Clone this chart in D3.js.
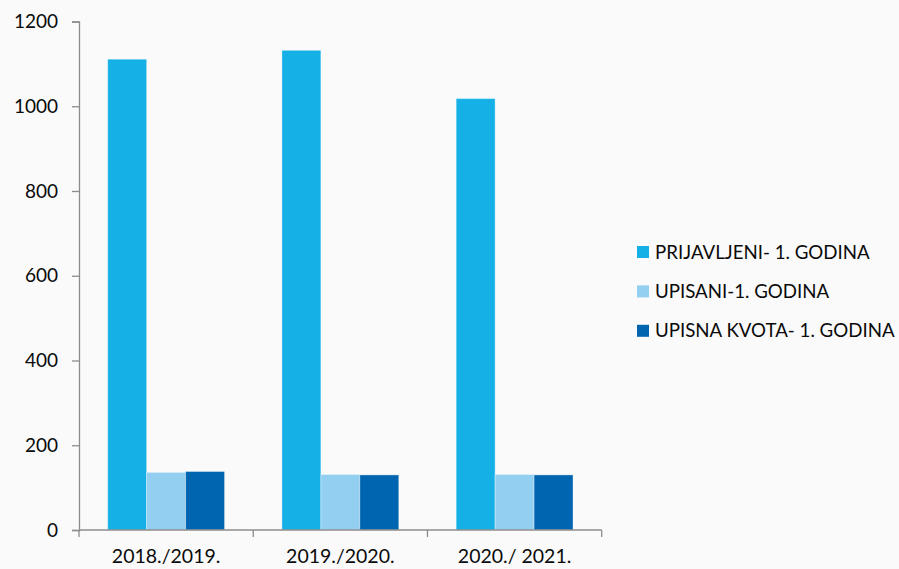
<!DOCTYPE html>
<html>
<head>
<meta charset="utf-8">
<script src="https://cdn.jsdelivr.net/npm/d3@7"></script>
<style>
html,body{margin:0;padding:0;background:#fafafa;}
svg{display:block;}
</style>
</head>
<body>
<svg id="chart" width="899" height="569"></svg>
<script>
const categories = ["2018./2019.", "2019./2020.", "2020./ 2021."];
const seriesNames = ["PRIJAVLJENI- 1. GODINA", "UPISANI-1. GODINA", "UPISNA KVOTA- 1. GODINA"];
const prijavljeni = [1111, 1132, 1018];
const upisani = [136, 131, 131];
const kvota = [138, 130, 130];
const yTicks = [0, 200, 400, 600, 800, 1000, 1200];
const colors = ["#15b1e6", "#92cff1", "#0065b1"];

const seriesValues = [prijavljeni, upisani, kvota];
const svg = d3.select("#chart");
const font = "Lato, 'Open Sans', sans-serif";
const mLeft = 79, mRight = 601.7, mTop = 21.5, mBottom = 530;

const x0 = d3.scaleBand().domain(categories).range([mLeft, mRight]).padding(0);
const gap = x0.bandwidth() * 0.1647;
const x1 = d3.scaleBand().domain(seriesNames).range([gap, x0.bandwidth() - gap]).padding(0);
const y = d3.scaleLinear().domain([0, 1200]).range([mBottom, mTop]);

// bars
const groups = svg.append("g").selectAll("g").data(categories).join("g")
  .attr("transform", d => `translate(${x0(d)},0)`);
groups.selectAll("rect")
  .data((c, i) => seriesNames.map((s, j) => ({s, j, v: seriesValues[j][i]})))
  .join("rect")
  .attr("x", d => x1(d.s))
  .attr("width", x1.bandwidth())
  .attr("y", d => y(d.v))
  .attr("height", d => y(0) - y(d.v))
  .attr("fill", d => colors[d.j])
  .attr("stroke", "rgba(255,255,255,0.35)")
  .attr("stroke-width", 1);

// y axis
const yAxis = svg.append("g").attr("transform", `translate(${mLeft},0)`)
  .call(d3.axisLeft(y).tickValues(yTicks).tickSize(7).tickPadding(14).tickFormat(d3.format("d")));
yAxis.select(".domain").attr("stroke", "#8c8c8c").attr("stroke-width", 1.3);
yAxis.selectAll(".tick line").attr("stroke", "#8c8c8c").attr("stroke-width", 1.3);
yAxis.selectAll("text").attr("font-family", font).attr("font-size", 19).attr("fill", "#0a0a0a");

// x axis
const xAxisG = svg.append("g").attr("transform", `translate(0,${mBottom})`);
xAxisG.append("line").attr("x1", mLeft).attr("x2", mRight).attr("y1", 0).attr("y2", 0)
  .attr("stroke", "#8c8c8c").attr("stroke-width", 1.5);
const boundaries = categories.map(c => x0(c)).concat([x0(categories[categories.length-1]) + x0.bandwidth()]);
xAxisG.selectAll("line.tk").data(boundaries).join("line").attr("class", "tk")
  .attr("x1", d => d).attr("x2", d => d).attr("y1", 0).attr("y2", 7)
  .attr("stroke", "#8c8c8c").attr("stroke-width", 1.3);
xAxisG.selectAll("text").data(categories).join("text")
  .attr("x", d => x0(d) + x0.bandwidth() / 2)
  .attr("y", 33)
  .attr("text-anchor", "middle")
  .attr("font-family", font).attr("font-size", 19.5).attr("fill", "#0a0a0a")
  .text(d => d);

// legend
const legend = svg.append("g").attr("transform", "translate(637,252)");
const li = legend.selectAll("g").data(seriesNames).join("g")
  .attr("transform", (d, i) => `translate(0,${i * 39.4})`);
li.append("rect").attr("x", 0).attr("y", -6).attr("width", 12).attr("height", 12)
  .attr("fill", (d, i) => colors[i]);
li.append("text").attr("x", 18).attr("y", 0).attr("dy", "0.35em")
  .attr("font-family", font).attr("font-size", 18.7).attr("fill", "#0a0a0a")
  .text(d => d);
</script>
</body>
</html>
